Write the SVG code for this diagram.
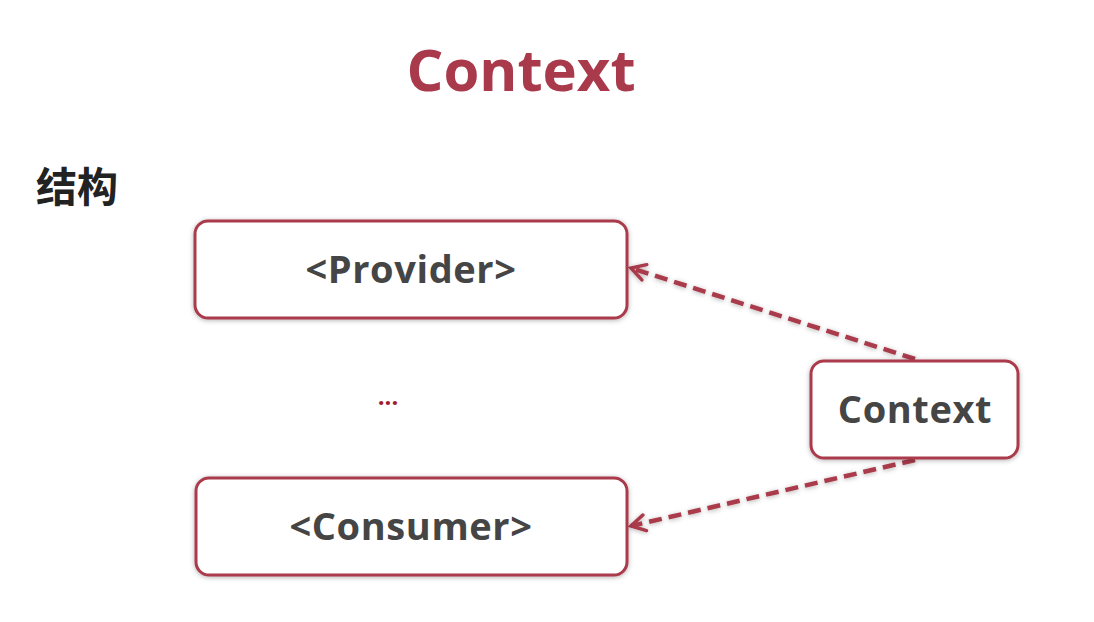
<svg xmlns="http://www.w3.org/2000/svg" width="1094" height="622" viewBox="0 0 1094 622">
<defs>
<style>
.box{fill:#fff;stroke:#a93a4c;stroke-width:3;}
.lbl{font-family:"Open Sans","Noto Sans","Liberation Sans",sans-serif;font-weight:bold;font-size:38px;letter-spacing:0.6px;fill:#454545;text-anchor:middle;}
.conn{fill:none;stroke:#a93a4c;stroke-width:4.5;stroke-dasharray:13 7;}
</style>
<filter id="sh" x="-10%" y="-20%" width="120%" height="140%">
<feDropShadow dx="0" dy="1" stdDeviation="2.5" flood-color="#000" flood-opacity="0.3"/>
</filter>
<marker id="arr" viewBox="0 0 20 20" refX="17" refY="10" markerWidth="20" markerHeight="20" markerUnits="userSpaceOnUse" orient="auto">
<path d="M3,2 L17,10 L3,18" fill="none" stroke="#a93a4c" stroke-width="3.5" stroke-linecap="round" stroke-linejoin="miter"/>
</marker>
</defs>
<rect width="1094" height="622" fill="#fff"/>
<text x="521" y="91" font-family="'Open Sans','Noto Sans','Liberation Sans',sans-serif" font-weight="bold" font-size="58" fill="#a93a4c" text-anchor="middle">Context</text>
<text x="36" y="202" font-family="'Noto Sans CJK SC',sans-serif" font-weight="bold" font-size="41" fill="#222">结构</text>
<g id="connectors" filter="url(#sh)">
<path class="conn" d="M915,359 L631,268" marker-end="url(#arr)"/>
<path class="conn" d="M915,460 L631,526" marker-end="url(#arr)"/>
</g>
<g id="provider">
<rect class="box" x="195" y="221" width="432" height="97" rx="13" filter="url(#sh)"/>
<text class="lbl" x="411" y="283">&lt;Provider&gt;</text>
</g>
<g id="ellipsis">
<text x="388" y="405" font-family="'Open Sans','Liberation Sans',sans-serif" font-weight="bold" font-size="24" fill="#a0202a" text-anchor="middle">...</text>
</g>
<g id="consumer">
<rect class="box" x="196" y="478" width="431" height="97" rx="13" filter="url(#sh)"/>
<text class="lbl" x="411" y="540">&lt;Consumer&gt;</text>
</g>
<g id="context">
<rect class="box" x="811" y="361" width="207" height="97" rx="13" filter="url(#sh)"/>
<text class="lbl" x="915" y="423">Context</text>
</g>
</svg>
